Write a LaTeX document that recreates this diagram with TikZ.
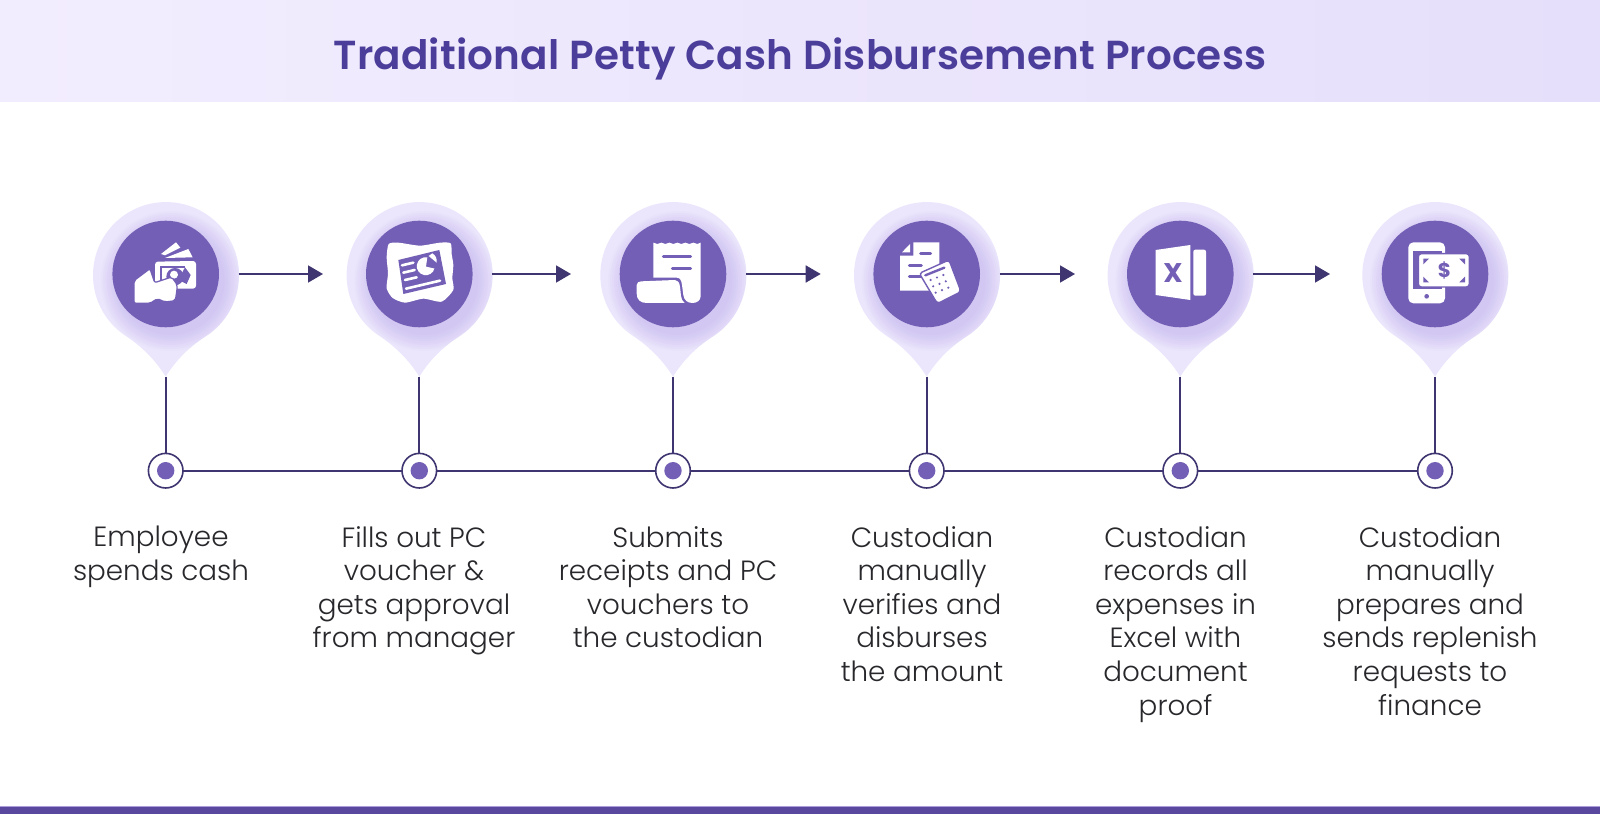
\documentclass[tikz,border=0pt]{standalone}
\usepackage{fontspec}
\setmainfont{Poppins}
\newfontfamily\titlefont[LetterSpace=0.45]{Poppins SemiBold}
\newfontfamily\labelfont{Poppins Light}
\usetikzlibrary{arrows.meta}
\definecolor{hdrL}{HTML}{F2EDFE}
\definecolor{hdrR}{HTML}{E6DFFB}
\definecolor{titlec}{HTML}{4B3D9A}
\definecolor{halo}{HTML}{ECE6FD}
\definecolor{glow}{HTML}{B09DE6}
\definecolor{disc}{HTML}{735FB5}
\definecolor{linec}{HTML}{3F3570}
\definecolor{txt}{HTML}{28282C}
\definecolor{barc}{HTML}{5A489F}
\definecolor{barl}{HTML}{AC9EDB}
\tikzset{
  discnode/.style={circle,fill=disc,minimum size=106.6pt,inner sep=0pt,outer sep=0pt},
  halonode/.style={circle,minimum size=146pt,inner sep=0pt,outer sep=0pt},
  ringnode/.style={circle,draw=linec,line width=1.6pt,fill=white,minimum size=34.6pt,inner sep=0pt,outer sep=0pt},
  dotnode/.style={circle,fill=disc,minimum size=17.4pt,inner sep=0pt,outer sep=0pt},
  conn/.style={draw=linec,line width=1.7pt},
  flow/.style={conn,-{Triangle[length=15pt,width=17pt,fill=linec]}},
  lbl/.style={anchor=north,align=center,text=txt,font=\labelfont\fontsize{27.8pt}{33.6pt}\selectfont,inner sep=0pt},
  ico/.style={fill=white,draw=none},
  icocut/.style={fill=disc,draw=none},
  icoline/.style={draw=disc,line width=3pt,line cap=round},
  zoomA/.style={xshift=70pt,yshift=634pt,x=.33333pt,y=-.33333pt},
  zoomB/.style={xshift=580pt,yshift=624pt,x=.33333pt,y=-.33333pt},
  zoomC/.style={xshift=1080pt,yshift=624pt,x=.33333pt,y=-.33333pt},
}
\newcommand{\pinshape}[1]{(#1,437.3) .. controls (#1+9,452) and (#1+22,466) .. (#1+39,477) arc[start angle=-58,end angle=238,radius=73pt] .. controls (#1-22,466) and (#1-9,452) .. (#1,437.3) -- cycle}
\newcommand{\pinat}[2]{%
  \fill[halo] \pinshape{#2};
  \begin{scope}
    \clip \pinshape{#2};
    \foreach \rr in {70,68,...,54}{\fill[glow,opacity=.05] (#2+5,533) circle[radius=\rr pt];}
  \end{scope}
  \node[halonode] (p#1) at (#2,540) {};
  \node[discnode] (c#1) at (#2,540) {};
  \coordinate (t#1) at (#2,437.3);
  \node[ringnode] (r#1) at (#2,343.3) {};
  \node[dotnode] (d#1) at (#2,343.3) {};
  \draw[conn] (t#1) -- (r#1);
}
\begin{document}
\begin{tikzpicture}[x=1pt,y=1pt]
\useasboundingbox (0,0) rectangle (1600,814);
\fill[white] (0,0) rectangle (1600,814);
\shade[left color=hdrL,right color=hdrR] (0,712) rectangle (1600,814);
\node[text=titlec,font=\titlefont\fontsize{40.5pt}{48pt}\selectfont,inner sep=0pt] (title) at (800,755.5) {Traditional Petty Cash Disbursement Process};
\fill[barc] (0,0) rectangle (1600,7.3);
\fill[barl] (0,7.3) rectangle (1600,8.3);

\pinat{1}{165.7}
\pinat{2}{419.3}
\pinat{3}{673}
\pinat{4}{926.7}
\pinat{5}{1180.3}
\pinat{6}{1435}

\coordinate (a1) at (323,540);
\coordinate (a2) at (571,540);
\coordinate (a3) at (820.7,540);
\coordinate (a4) at (1075,540);
\coordinate (a5) at (1330,540);
\draw[flow] (p1.east) -- (a1);
\draw[flow] (p2.east) -- (a2);
\draw[flow] (p3.east) -- (a3);
\draw[flow] (p4.east) -- (a4);
\draw[flow] (p5.east) -- (a5);
\draw[conn] (r1) -- (r2);
\draw[conn] (r2) -- (r3);
\draw[conn] (r3) -- (r4);
\draw[conn] (r4) -- (r5);
\draw[conn] (r5) -- (r6);

\node[lbl] (l1) at (161,288) {Employee\\spends cash};
\node[lbl] (l2) at (414,288) {Fills out PC\\voucher \&\\gets approval\\from manager};
\node[lbl] (l3) at (668,288) {Submits\\receipts and PC\\vouchers to\\the custodian};
\node[lbl] (l4) at (922,288) {Custodian\\manually\\verifies and\\disburses\\the amount};
\node[lbl] (l5) at (1175.5,288) {Custodian\\records all\\expenses in\\Excel with\\document\\proof};
\node[lbl] (l6) at (1430,288) {Custodian\\manually\\prepares and\\sends replenish\\requests to\\finance};

% icon 1: hand with money
\begin{scope}[zoomA]
  \fill[ico] (273,222) -- (318,187) -- (331,203) -- (285,226) -- cycle;
  \fill[ico] (285,234) -- (355,207) -- (368,232) -- cycle;
  \fill[ico,rounded corners=3pt] (255,245) -- (378,243) -- (378,326) -- (300,326) -- (255,320) -- cycle;
  \draw[disc,line width=2.2pt] (272,305) -- (272,262) -- (345,262);
  \fill[icocut] (315,290) circle[radius=26];
  \fill[icocut] (345,262) -- (362,285) -- (350,312) -- (325,300) -- cycle;
  \fill[ico] (312,284) circle[radius=12];
  \filldraw[fill=white,draw=disc,line width=1.2pt,rounded corners=2pt] (192,370) -- (192,302) -- (240,266) -- (254,308) -- (305,291) -- (322,315) -- (320,335) -- (316,362) -- (285,366) -- (262,356) -- (240,370) -- cycle;
\end{scope}

% icon 2: badge / report
\begin{scope}[zoomA]
  \fill[ico] plot[smooth cycle,tension=.4] coordinates {(956,192) (985,188) (1050,197) (1110,188) (1142,190) (1145,222) (1150,255) (1147,295) (1150,330) (1115,365) (1060,356) (1005,368) (968,354) (950,325) (954,280) (950,232)};
  \fill[icocut] (985,240) -- (1108,210) -- (1128,312) -- (1000,342) -- cycle;
  \draw[white,line width=2.6pt,line cap=round] (996,256) -- (1030,248);
  \draw[white,line width=2.6pt,line cap=round] (1000,278) -- (1034,270);
  \draw[white,line width=2.6pt,line cap=round] (1005,300) -- (1040,292);
  \draw[white,line width=2.6pt,line cap=round] (1008,326) -- (1110,302);
  \fill[ico] (1068,260) -- (1072,232) arc[start angle=80,end angle=345,radius=9pt] -- cycle;
  \fill[ico] (1076,228) -- (1100,248) arc[start angle=-10,end angle=60,radius=9pt] -- cycle;
\end{scope}

% icon 3: receipt
\begin{scope}[zoomB]
  \fill[ico] (220,158) -- (232,162) -- (244,158) -- (256,162) -- (268,158) -- (280,162) -- (292,158) -- (304,162) -- (316,158) -- (328,162) -- (340,158) -- (352,162) -- (362,158) -- (362,318) .. controls (362,332) and (350,339) .. (337,339) .. controls (322,339) and (312,330) .. (310,315) -- (306,285) .. controls (304,270) and (300,263) .. (290,263) -- (220,263) -- cycle;
  \fill[ico] (170,285) .. controls (170,277) and (176,275) .. (184,274) -- (285,270) .. controls (294,270) and (298,278) .. (300,290) -- (303,318) .. controls (304,328) and (308,334) .. (314,339) -- (200,339) .. controls (180,339) and (170,328) .. (170,310) -- cycle;
  \draw[icoline] (250,201) -- (332,201);
  \draw[icoline] (277,235) -- (332,235);
\end{scope}

% icon 4: document and calculator
\begin{scope}[zoomB]
  \fill[ico] (1000,157) -- (1078,157) -- (1078,302) -- (960,302) -- (960,197) -- (1000,197) -- cycle;
  \fill[ico] (966,187) -- (990,162) -- (990,187) -- cycle;
  \draw[icoline] (1022,191) -- (1052,191);
  \draw[icoline] (988,226) -- (1024,226);
  \draw[icoline] (988,259) -- (1024,259);
  \filldraw[fill=white,draw=disc,line width=1.4pt,rounded corners=3pt] (1018,250) -- (1107,210) -- (1143,305) -- (1072,341) -- cycle;
  \draw[icoline,line width=2.4pt] (1036,256) -- (1093,233);
  \foreach \ka/\kb in {0/0,1/0,2/0,0/1,1/1,2/1,0/2,1/2,2/2}{
    \fill[icocut] ({1052+\ka*19+\kb*7.5},{270-\ka*7.5+\kb*19}) circle[radius=3.6];
  }
\end{scope}

% icon 5: spreadsheet
\begin{scope}[zoomC]
  \fill[ico] (227,180) -- (331,165) -- (331,330) -- (227,315) -- cycle;
  \fill[ico,rounded corners=2pt] (340,179) rectangle (378,317);
  \node[text=disc,font=\bfseries\fontsize{27pt}{27pt}\selectfont,inner sep=0pt] (xmark) at (279,249) {X};
\end{scope}

% icon 6: phone and banknote
\begin{scope}[zoomC]
  \fill[ico,rounded corners=5pt] (985,157) rectangle (1095,340);
  \fill[icocut] (1000,182) rectangle (1085,296);
  \fill[icocut] (1040,319) circle[radius=7];
  \filldraw[fill=white,draw=disc,line width=1.4pt,rounded corners=3pt] (1015,191) rectangle (1168,291);
  \fill[icocut] (1030,206) -- (1047,206) -- (1030,223) -- cycle;
  \fill[icocut] (1155,206) -- (1138,206) -- (1155,223) -- cycle;
  \fill[icocut] (1030,277) -- (1047,277) -- (1030,260) -- cycle;
  \fill[icocut] (1155,277) -- (1138,277) -- (1155,260) -- cycle;
  \node[text=disc,font=\bfseries\fontsize{20pt}{20pt}\selectfont,inner sep=0pt] (dollar) at (1093,242) {\$};
\end{scope}
\end{tikzpicture}
\end{document}
